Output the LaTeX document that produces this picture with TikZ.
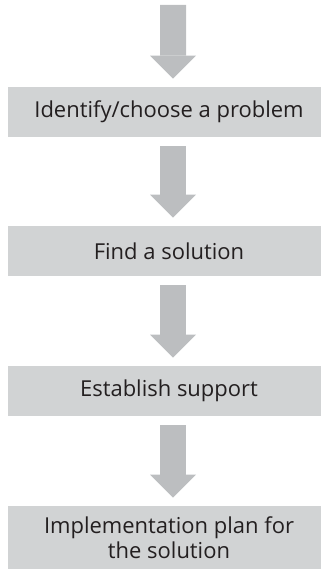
\documentclass[tikz,border=0pt]{standalone}
\usepackage{fontspec}
\setmainfont{Open Sans}
\usepackage{tikz}
\usepackage{xcolor}
\usetikzlibrary{arrows.meta}

\definecolor{arrowgray}{RGB}{188,190,192}
\definecolor{boxgray}{RGB}{209,211,212}
\definecolor{textgray}{RGB}{35,31,32}

\begin{document}
\begin{tikzpicture}[
  stepbox/.style={fill=boxgray, minimum width=6.44cm, minimum height=1cm, inner sep=0pt,
    text=textgray, font=\fontsize{12.5}{14.2}\selectfont, align=center},
  flowarrow/.style={draw=arrowgray, line width=0.52cm,
    -{Triangle[length=0.46cm, width=0.92cm, line width=0pt 0]},
    shorten <=0.18cm, shorten >=0.16cm}
]
  \useasboundingbox (0, 0) rectangle (6.42, 11.6);

  % Steps
  \node[stepbox] (identify) at (3.38, 9.36) {Identify/choose a problem};
  \node[stepbox] (solution) at (3.38, 6.58) {Find a solution};
  \node[stepbox] (support) at (3.38, 3.78) {Establish support};
  \node[stepbox, minimum height=1.26cm] (plan) at (3.38, 0.85)
    {Implementation plan for\\the solution};

  % Free end of the first arrow
  \coordinate (start) at (3.46, 11.68);

  % Block arrows (slightly right of the text centre)
  \draw[flowarrow] (start) -- ([xshift=0.8mm]identify.north);
  \draw[flowarrow] ([xshift=0.8mm]identify.south) -- ([xshift=0.8mm]solution.north);
  \draw[flowarrow] ([xshift=0.8mm]solution.south) -- ([xshift=0.8mm]support.north);
  \draw[flowarrow] ([xshift=0.8mm]support.south) -- ([xshift=0.8mm]plan.north);
\end{tikzpicture}
\end{document}
